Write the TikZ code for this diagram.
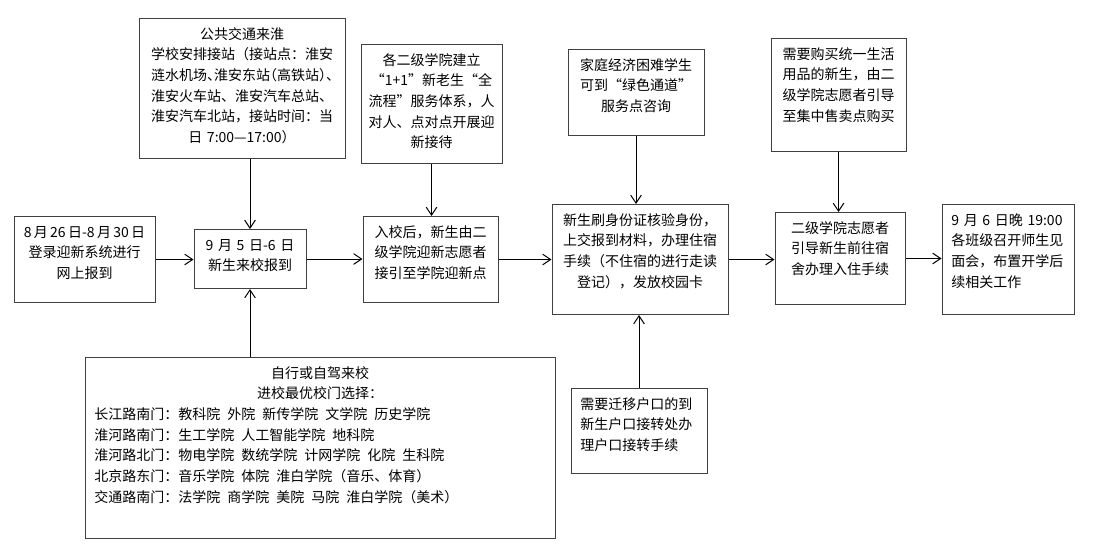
\documentclass[tikz,border=0pt]{standalone}
\usepackage{fontspec}
\setmainfont{Noto Sans CJK SC}
\usetikzlibrary{arrows.meta}

\begin{document}
\begin{tikzpicture}[x=0.75pt, y=-0.75pt,
        stage/.style={draw=black!75, line width=0.75pt, anchor=north, inner sep=3pt,
            text height=12.5pt, align=center, font=\fontsize{10.5}{15.5}\selectfont},
        flow/.style={-{Straight Barb[length=6pt,width=8pt]}, line width=0.75pt}]
        \useasboundingbox (0,0) rectangle (1105,551);

        % Draw the main steps
        \node[stage, text width=99.75pt, text depth=46pt] (signup) at (84.5,216)
            {\mbox{8\,月\,26\,日-8\,月\,30\,日}\\登录迎新系统进行\\网上报到};
        \node[stage, text width=78pt, text depth=25.75pt] (arrive) at (250,229)
            {9 月 5 日-6 日\\新生来校报到};
        \node[stage, text width=95.25pt, text depth=46pt] (college) at (430.5,216)
            {入校后，新生由二\\级学院迎新志愿者\\接引至学院迎新点};
        \node[stage, text width=126pt, text depth=64pt] (checkin) at (640,204)
            {新生刷身份证核验身份，\\上交报到材料，办理住宿\\手续（不住宿的进行走读\\登记），发放校园卡};
        \node[stage, text width=91.5pt, text depth=50.5pt] (dorm) at (840,212)
            {二级学院志愿者\\引导新生前往宿\\舍办理入住手续};
        \node[stage, align=left, inner xsep=7pt, text width=85pt, text depth=64pt] (meeting) at (1008,204)
            {9 月 6 日晚 19:00\\各班级召开师生见\\面会，布置开学后\\续相关工作};

        % Draw the side notes above
        \node[stage, text width=148.5pt, text depth=86.5pt] (transit) at (242,18)
            {公共交通来淮\\学校安排接站（接站点：淮安\\{\addfontfeatures{RawFeature=+halt}涟水机场、淮安东站（高铁站）、}\\淮安火车站、淮安汽车总站、\\淮安汽车北站，接站时间：当\\日 7:00—17:00）};
        \node[stage, text width=99.75pt, text depth=70.75pt] (buddy) at (431.5,44)
            {各二级学院建立\\“1+1”新老生“全\\流程”服务体系，人\\对人、点对点开展迎\\新接待};
        \node[stage, text width=96pt, text depth=46pt] (aid) at (636,49)
            {家庭经济困难学生\\可到“绿色通道”\\服务点咨询};
        \node[stage, text width=95.25pt, text depth=66.25pt] (shop) at (838.5,38)
            {需要购买统一生活\\用品的新生，由二\\级学院志愿者引导\\至集中售卖点购买};

        % Draw the side notes below
        \node[stage, align=left, inner xsep=7pt, text width=338.5pt, text depth=117.25pt] (drive) at (320,357)
            {\centering 自行或自驾来校\\进校最优校门选择：\par
             \raggedright 长江路南门：教科院\enspace 外院\enspace 新传学院\enspace 文学院\enspace 历史学院\\
             淮河路南门：生工学院\enspace 人工智能学院\enspace 地科院\\
             淮河路北门：物电学院\enspace 数统学院\enspace 计网学院\enspace 化院\enspace 生科院\\
             北京路东门：音乐学院\enspace 体院\enspace 淮白学院（音乐、体育）\\
             交通路南门：法学院\enspace 商学院\enspace 美院\enspace 马院\enspace 淮白学院（美术）};
        \node[stage, align=left, inner xsep=7pt, text width=88pt, text depth=45.25pt] (hukou) at (639,388)
            {需要迁移户口的到\\新生户口接转处办\\理户口接转手续};

        % Draw the arrows
        \draw[flow] (signup.east) -- (signup.east -| arrive.west);
        \draw[flow] (arrive.east) -- (arrive.east -| college.west);
        \draw[flow] (college.east) -- (college.east -| checkin.west);
        \draw[flow] (checkin.east) -- (checkin.east -| dorm.west);
        \draw[flow] (dorm.east) -- (dorm.east -| meeting.west);
        \draw[flow] (arrive.north |- transit.south) -- (arrive.north);
        \draw[flow] (buddy.south) -- (buddy.south |- college.north);
        \draw[flow] (aid.south) -- (aid.south |- checkin.north);
        \draw[flow] (shop.south) -- (shop.south |- dorm.north);
        \draw[flow] (arrive.south |- drive.north) -- (arrive.south);
        \draw[flow] (hukou.north) -- (hukou.north |- checkin.south);

    \end{tikzpicture}
\end{document}
